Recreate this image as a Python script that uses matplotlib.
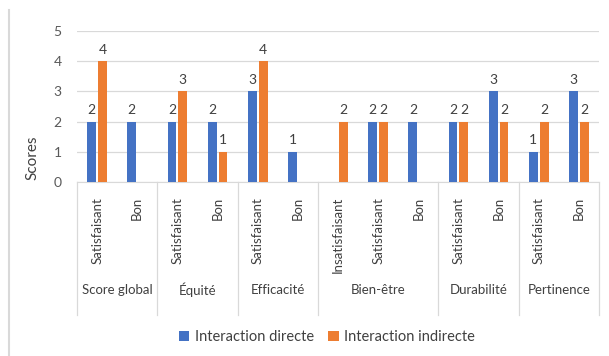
import numpy as np
import matplotlib.pyplot as plt
import matplotlib.transforms as mtransforms
from matplotlib.lines import Line2D

plt.rcParams['font.family'] = ['Lato', 'DejaVu Sans']

groups = ['Score global', 'Équité', 'Efficacité', 'Bien-être', 'Durabilité', 'Pertinence']
sub_labels = [['Satisfaisant', 'Bon'],
              ['Satisfaisant', 'Bon'],
              ['Satisfaisant', 'Bon'],
              ['Insatisfaisant', 'Satisfaisant', 'Bon'],
              ['Satisfaisant', 'Bon'],
              ['Satisfaisant', 'Bon']]
directe = [2, 2, 2, 2, 3, 1, np.nan, 2, 2, 2, 3, 1, 3]
indirecte = [4, np.nan, 3, 1, 4, np.nan, 2, 2, np.nan, 2, 2, 2, 2]

blue = '#4472C4'
orange = '#ED7D31'

fig = plt.figure(figsize=(6.09, 3.56), dpi=100)
ax = fig.add_axes([77 / 609, 1 - 182 / 356, 522 / 609, 151 / 356])

x = np.arange(len(directe))
w = 0.22
b1 = ax.bar(x - 0.135, directe, w, color=blue, label='Interaction directe', zorder=3)
b2 = ax.bar(x + 0.135, indirecte, w, color=orange, label='Interaction indirecte', zorder=3)

for bars, vals in [(b1, directe), (b2, indirecte)]:
    for rect, v in zip(bars, vals):
        if np.isnan(v):
            continue
        ax.annotate(f'{int(v)}', (rect.get_x() + rect.get_width() / 2, v),
                    xytext=(0, 4), textcoords='offset points',
                    ha='center', va='bottom', fontsize=10, color='#404040')

ax.set_xlim(-0.5, len(directe) - 0.5)
ax.set_ylim(0, 5)
ax.set_yticks(range(6))
ax.tick_params(axis='y', length=0, labelsize=10, labelcolor='#595959', pad=11)
ax.set_xticks([])
ax.grid(axis='y', color='#D9D9D9', lw=0.9, zorder=0)
for s in ['top', 'right', 'left']:
    ax.spines[s].set_visible(False)
ax.spines['bottom'].set_color('#D9D9D9')
ax.set_ylabel('Scores', fontsize=11, color='#404040')
ax.yaxis.set_label_coords(-0.071, 0.16)

# two-level category axis
trans = mtransforms.blended_transform_factory(ax.transData, ax.transAxes)
pos = 0
edges = [-0.5]
for g, subs in zip(groups, sub_labels):
    for i, s in enumerate(subs):
        ax.text(pos + i, -0.1, s, rotation=90, ha='center', va='top',
                fontsize=9.5, color='#404040', transform=trans)
    ax.text(pos + (len(subs) - 1) / 2, -0.715, g, ha='center', va='center',
            fontsize=9.5, color='#404040', transform=trans)
    pos += len(subs)
    edges.append(pos - 0.5)
for e in edges:
    ax.plot([e, e], [0, -0.88], color='#D9D9D9', lw=0.9, transform=trans, clip_on=False)

ax.legend(handles=[b1, b2], loc='center', bbox_to_anchor=(327 / 609, 1 - 337 / 356),
          bbox_transform=fig.transFigure, ncol=2, frameon=False, fontsize=10.5,
          handlelength=0.7, handleheight=0.7, handletextpad=0.4, columnspacing=1.0,
          labelcolor='#404040')

fig.add_artist(Line2D([9 / 609, 9 / 609], [0, 1 - 10 / 356], color='#D9D9D9', lw=1.5,
                      transform=fig.transFigure))

fig.savefig('out.png', dpi=100)
